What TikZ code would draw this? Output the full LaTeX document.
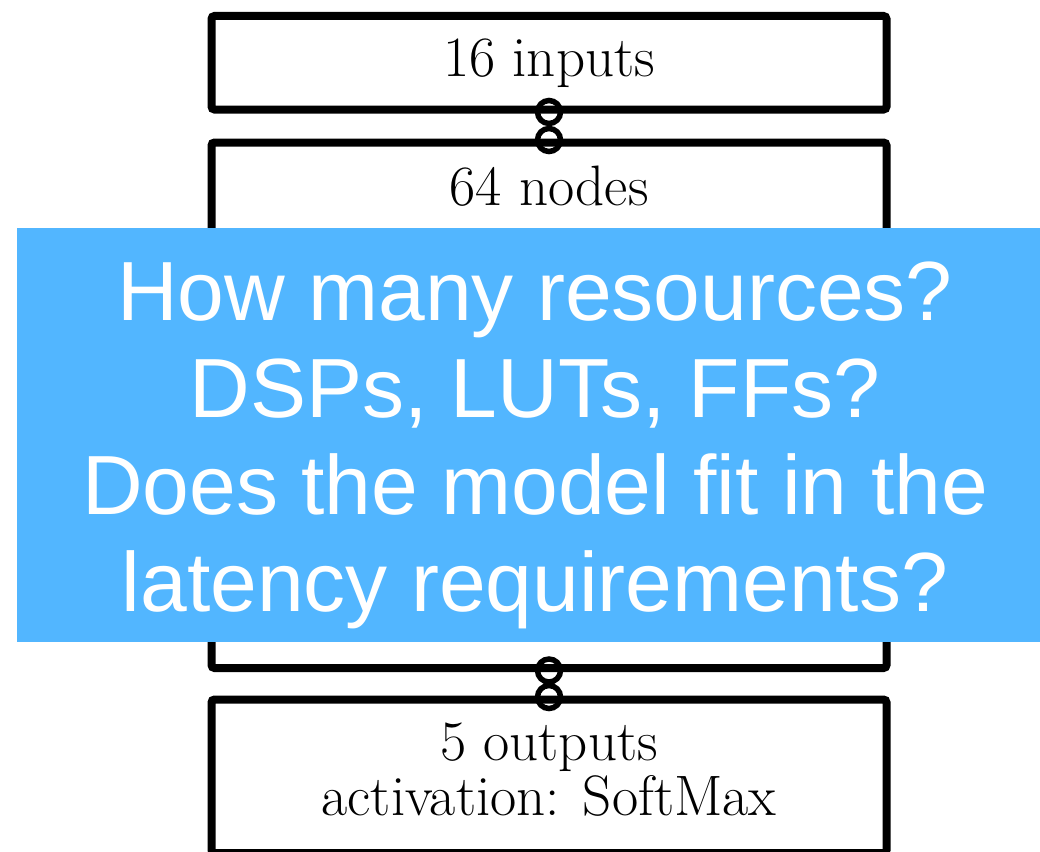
\documentclass[tikz,border=0pt]{standalone}
\usepackage{fontspec}
\usepackage{xcolor}
\usepackage{tikz}
\usetikzlibrary{positioning}
\newfontfamily\qfont{Liberation Sans}
\definecolor{qblue}{RGB}{82,182,255}

\begin{document}
\begin{tikzpicture}[x=1pt,y=-1pt,
    layer/.style={draw,line width=8pt,rounded corners=3pt,outer sep=0pt,minimum width=675pt,inner sep=0pt,font=\fontsize{57}{58}\selectfont},
    label/.style={font=\fontsize{57}{55}\selectfont,align=center},
    joint/.style={line width=5.5pt},
    question/.style={text=white,align=center,font=\qfont\fontsize{84}{97}\selectfont}]
    \useasboundingbox (0,0) rectangle (1040,851);
    \clip (0,0) rectangle (1040,851);
    \node[layer,minimum height=93.5pt,anchor=north] (inp) at (549,16) {16 inputs};
    \node[layer,minimum height=525.5pt,below=33pt of inp] (hid) {};
    \node[label,anchor=base] (hidtxt) at ([yshift=-62.5pt]hid.north) {64 nodes};
    \node[layer,minimum height=153.5pt,below=31.5pt of hid] (out) {};
    \node[label,anchor=base] (outtxt) at ([yshift=-115.5pt]out.north) {5 outputs\\activation: SoftMax};
    \draw[joint] ([yshift=-2.5pt]inp.south) circle (11.5);
    \draw[joint] ([yshift=2.5pt]hid.north) circle (11.5);
    \draw[joint] ([yshift=-2.5pt]hid.south) circle (11.5);
    \draw[joint] ([yshift=2.5pt]out.north) circle (11.5);
    % question box on top
    \node[fill=qblue,minimum width=1023pt,minimum height=414pt,inner sep=0pt,anchor=north west] (qbox) at (17,228) {};
    \node[question] (qtxt) at (535,445) {How many resources?\\DSPs, LUTs, FFs?\\Does the model fit in the\\latency requirements?};
\end{tikzpicture}
\end{document}
